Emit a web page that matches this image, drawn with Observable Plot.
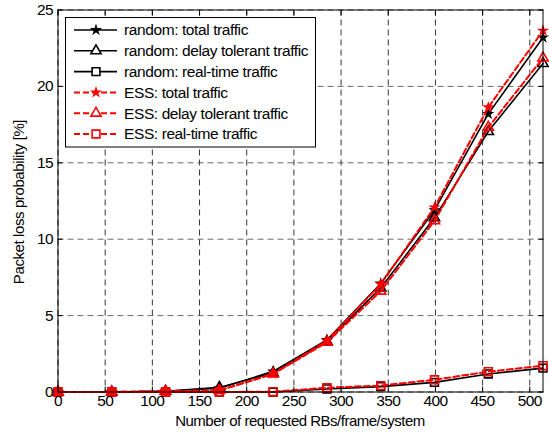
<!DOCTYPE html>
<html>
<head>
<meta charset="utf-8">
<script src="https://cdn.jsdelivr.net/npm/d3@7"></script>
<script src="https://cdn.jsdelivr.net/npm/@observablehq/plot@0.6"></script>
<style>
  html, body { margin: 0; padding: 0; background: #fff; }
  #chart { position: relative; width: 549px; height: 434px; }
  svg { font-family: "Liberation Sans", Arial, sans-serif; }
</style>
</head>
<body>
<div id="chart"></div>
<script>
const xVals = [0, 57, 114, 171, 228, 285, 342, 399, 456, 514];
const randomTotal = [0, 0, 0.05, 0.25, 1.35, 3.4, 7.1, 11.9, 18.2, 23.2];
const randomDelay = [0, 0, 0.05, 0.3, 1.25, 3.3, 6.8, 11.4, 17.05, 21.5];
const randomRT = [0, 0, 0, 0, 0, 0.2, 0.35, 0.63, 1.18, 1.56];
const essTotal = [0, 0, 0.05, 0.1, 1.2, 3.35, 7.05, 12.08, 18.63, 23.65];
const essDelay = [0, 0, 0.05, 0.1, 1.18, 3.25, 6.6, 11.2, 17.32, 21.86];
const essRT = [0, 0, 0, 0, 0.02, 0.28, 0.42, 0.8, 1.33, 1.72];

const seriesNames = [
  "random: total traffic",
  "random: delay tolerant traffic",
  "random: real-time traffic",
  "ESS: total traffic",
  "ESS: delay tolerant traffic",
  "ESS: real-time traffic"
];
const seriesValues = [randomTotal, randomDelay, randomRT, essTotal, essDelay, essRT];
const seriesColor = ["black", "black", "black", "#ff0000", "#ff0000", "#ff0000"];
const seriesDash = [null, null, null, "6,3", "6,3", "6,3"];
const seriesSymbol = ["star", "triangle", "square", "star", "triangle", "square"];
const seriesR = [2.3, 3.8, 4.4, 2.3, 3.8, 4.4];
const seriesFilled = [true, false, false, true, false, false];

const xTicks = [0, 50, 100, 150, 200, 250, 300, 350, 400, 450, 500];
const yTicks = [0, 5, 10, 15, 20, 25];

const rows = [];
seriesValues.forEach((vals, s) => {
  vals.forEach((v, i) => rows.push({series: s, x: xVals[i], y: v}));
});

const font = {fontSize: 15.5};
const marks = [
  Plot.gridX(xTicks, {stroke: "black", strokeOpacity: 1, strokeWidth: 0.8, strokeDasharray: "6,4"}),
  Plot.gridY(yTicks, {stroke: "#444", strokeOpacity: 1, strokeWidth: 0.8, strokeDasharray: "6,4"}),
];
for (let s = 0; s < 6; s++) {
  const data = rows.filter(d => d.series === s);
  marks.push(Plot.line(data, {
    x: "x", y: "y", stroke: seriesColor[s],
    strokeWidth: s < 3 ? 1.6 : 2,
    strokeDasharray: seriesDash[s]
  }));
  marks.push(Plot.dot(data, {
    x: "x", y: "y", symbol: () => seriesSymbol[s], r: seriesR[s],
    stroke: seriesColor[s], strokeWidth: 1.6,
    fill: seriesFilled[s] ? seriesColor[s] : "none"
  }));
}
marks.push(
  Plot.frame({stroke: "black", strokeWidth: 1}),
  Plot.axisX(xTicks, {anchor: "bottom", tickSize: 0, tickPadding: 3, ...font, label: null}),
  Plot.axisX(xTicks, {anchor: "bottom", tickSize: 5, dy: -5, text: null, label: null}),
  Plot.axisX(xTicks, {anchor: "top", tickSize: 5, dy: 5, text: null, label: null}),
  Plot.axisY(yTicks, {anchor: "left", tickSize: 0, tickPadding: 5, ...font, label: null}),
  Plot.axisY(yTicks, {anchor: "left", tickSize: 5, dx: 5, text: null, label: null}),
  Plot.axisY(yTicks, {anchor: "right", tickSize: 5, dx: -5, text: null, label: null})
);

const chart = Plot.plot({
  width: 549,
  height: 434,
  marginLeft: 57.5,
  marginRight: 6.5,
  marginTop: 9.5,
  marginBottom: 42.5,
  x: {domain: [0, 514]},
  y: {domain: [0, 25]},
  style: {fontFamily: '"Liberation Sans", Arial, sans-serif', background: "white", overflow: "visible"},
  marks
});

const svg = d3.select(chart);
svg.selectAll("text").style("letter-spacing", "-0.6px");

// axis titles
svg.append("text")
  .attr("x", 300).attr("y", 426)
  .attr("text-anchor", "middle")
  .style("font-size", "15px").style("letter-spacing", "-0.5px")
  .text("Number of requested RBs/frame/system");
svg.append("text")
  .attr("transform", "translate(24,202) rotate(-90)")
  .attr("text-anchor", "middle")
  .style("font-size", "15px").style("letter-spacing", "-0.4px")
  .text("Packet loss probability [%]");

// legend
const lg = svg.append("g");
lg.append("rect")
  .attr("x", 65.5).attr("y", 17.5).attr("width", 250).attr("height", 129.5)
  .attr("fill", "white").attr("stroke", "black").attr("stroke-width", 1);
const symMap = {star: d3.symbolStar, triangle: d3.symbolTriangle, square: d3.symbolSquare};
seriesNames.forEach((name, s) => {
  const cy = 30 + s * 20.8;
  lg.append("line")
    .attr("x1", 74).attr("x2", 117).attr("y1", cy).attr("y2", cy)
    .attr("stroke", seriesColor[s]).attr("stroke-width", s < 3 ? 1.6 : 2)
    .attr("stroke-dasharray", seriesDash[s]);
  const r = seriesR[s];
  lg.append("path")
    .attr("transform", `translate(96,${cy})`)
    .attr("d", d3.symbol(symMap[seriesSymbol[s]], Math.PI * r * r)())
    .attr("stroke", seriesColor[s]).attr("stroke-width", 1.6)
    .attr("fill", seriesFilled[s] ? seriesColor[s] : "white");
  lg.append("text")
    .attr("x", 124).attr("y", cy).attr("dy", "0.35em")
    .attr("text-anchor", "start")
    .style("font-size", "15.5px").style("letter-spacing", "-0.4px")
    .text(name);
});

document.getElementById("chart").appendChild(chart);
</script>
</body>
</html>
